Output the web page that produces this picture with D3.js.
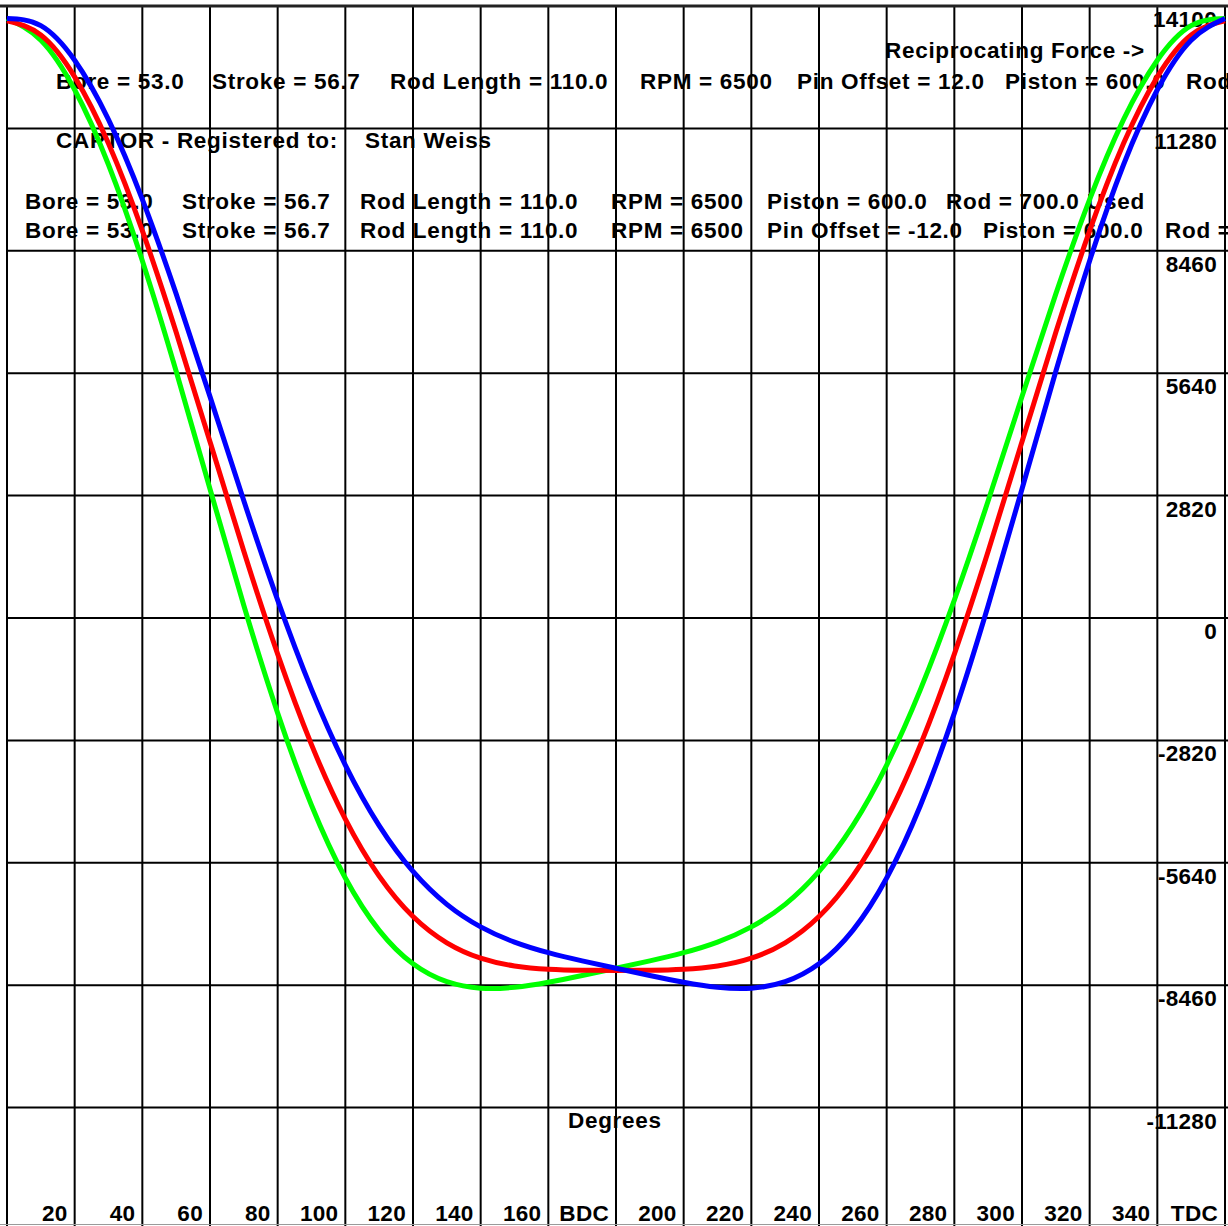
<!DOCTYPE html>
<html lang="en">
<head>
    <meta charset="UTF-8">
    <title>Reciprocating Force</title>
    <script src="https://d3js.org/d3.v7.min.js"></script>
    <style>
        body { margin: 0; background: #fff; }
        svg { display: block; }
        text {
            font-family: "Liberation Sans", Arial, sans-serif;
            font-weight: bold;
            font-size: 22.5px;
            letter-spacing: 0.7px;
            fill: #000;
            white-space: pre;
        }
    </style>
</head>
<body>
    <script>
        // crank angle, every 10 degrees
        let degrees = [0, 10, 20, 30, 40, 50, 60, 70, 80, 90, 100, 110, 120, 130, 140, 150, 160, 170, 180,
                       190, 200, 210, 220, 230, 240, 250, 260, 270, 280, 290, 300, 310, 320, 330, 340, 350, 360];

        // pin offset = 0 (red)
        let forceNoOffset = [13760, 13431, 12468, 10932, 8924, 6581, 4062, 1537, -833, -2918, -4633, -5947, -6878,
                             -7483, -7837, -8017, -8092, -8116, -8120, -8116, -8092, -8017, -7837, -7483, -6878,
                             -5947, -4633, -2918, -833, 1537, 4062, 6581, 8924, 10932, 12468, 13431, 13760];
        // pin offset = 12.0 (blue)
        let forceOffsetPos = [13810, 13648, 12850, 11482, 9645, 7468, 5101, 2700, 412, -1644, -3388, -4783, -5839,
                              -6597, -7116, -7467, -7711, -7900, -8070, -8235, -8391, -8507, -8529, -8380, -7968,
                              -7197, -5991, -4314, -2191, 287, 2972, 5684, 8232, 10442, 12170, 13313, 13810];
        // pin offset = -12.0 (green)
        let forceOffsetNeg = [13810, 13313, 12170, 10442, 8232, 5684, 2972, 287, -2191, -4314, -5991, -7197, -7968,
                              -8380, -8529, -8507, -8391, -8235, -8070, -7900, -7711, -7467, -7116, -6597, -5839,
                              -4783, -3388, -1644, 412, 2700, 5101, 7468, 9645, 11482, 12850, 13648, 13810];

        let xTickValues = [20, 40, 60, 80, 100, 120, 140, 160, 180, 200, 220, 240, 260, 280, 300, 320, 340, 360];
        let xTickLabels = ["20", "40", "60", "80", "100", "120", "140", "160", "BDC",
                           "200", "220", "240", "260", "280", "300", "320", "340", "TDC"];
        let yTickValues = [14100, 11280, 8460, 5640, 2820, 0, -2820, -5640, -8460, -11280];

        let W = 1228, H = 1226;

        let svg = d3.select("body")
                    .append("svg")
                    .attr("width", W)
                    .attr("height", H);

        svg.append("rect").attr("width", W).attr("height", H).attr("fill", "#fff");

        let x = d3.scaleLinear().domain([0, 360]).range([7, 1225]);
        let y = d3.scaleLinear().domain([-14100, 14100]).range([1230, 6]);

        /* ---------- header text (drawn first, grid goes over it) ---------- */
        let header = [
            [885, 58, "Reciprocating Force ->"],
            [56, 89, "Bore = 53.0"], [212, 89, "Stroke = 56.7"], [390, 89, "Rod Length = 110.0"],
            [640, 89, "RPM = 6500"], [797, 89, "Pin Offset = 12.0"], [1005, 89, "Piston = 600.0"],
            [1186, 89, "Rod"],
            [56, 148, "CAPTOR - Registered to:"], [365, 148, "Stan Weiss"],
            [25, 209, "Bore = 53.0"], [182, 209, "Stroke = 56.7"], [360, 209, "Rod Length = 110.0"],
            [611, 209, "RPM = 6500"], [767, 209, "Piston = 600.0"], [946, 209, "Rod = 700.0"],
            [1087, 209, "Used"],
            [25, 238, "Bore = 53.0"], [182, 238, "Stroke = 56.7"], [360, 238, "Rod Length = 110.0"],
            [611, 238, "RPM = 6500"], [767, 238, "Pin Offset = -12.0"], [983, 238, "Piston = 600.0"],
            [1165, 238, "Rod ="]
        ];
        svg.append("g").selectAll("text")
           .data(header)
           .enter()
           .append("text")
           .attr("x", d => d[0])
           .attr("y", d => d[1])
           .text(d => d[2]);

        // y labels on the right, under each line
        svg.append("g").selectAll("text")
           .data(yTickValues)
           .enter()
           .append("text")
           .attr("x", 1217)
           .attr("y", d => y(d) + 21)
           .attr("text-anchor", "end")
           .style("letter-spacing", "0.3px")
           .text(d => d);

        // x labels along the bottom
        svg.append("g").selectAll("text")
           .data(xTickValues)
           .enter()
           .append("text")
           .attr("x", d => x(d) - 7)
           .attr("y", 1221)
           .attr("text-anchor", "end")
           .style("letter-spacing", "0.3px")
           .text((d, i) => xTickLabels[i]);

        svg.append("text")
           .attr("x", 568)
           .attr("y", 1128)
           .text("Degrees");

        /* ---------- grid ---------- */
        let grid = svg.append("g").attr("stroke", "#000").attr("stroke-width", 2);
        grid.selectAll(".v")
            .data(d3.range(0, 361, 20))
            .enter()
            .append("line")
            .attr("x1", d => x(d)).attr("x2", d => x(d))
            .attr("y1", 6).attr("y2", H);
        grid.selectAll(".h")
            .data(yTickValues.slice(1))
            .enter()
            .append("line")
            .attr("x1", x(0)).attr("x2", W)
            .attr("y1", d => y(d)).attr("y2", d => y(d));

        // top frame and bottom edge
        svg.append("line")
           .attr("x1", 0).attr("x2", W)
           .attr("y1", y(14100)).attr("y2", y(14100))
           .attr("stroke", "#222").attr("stroke-width", 3);
        svg.append("line")
           .attr("x1", 0).attr("x2", W)
           .attr("y1", 1224.5).attr("y2", 1224.5)
           .attr("stroke", "#9a9a9a").attr("stroke-width", 1);

        /* ---------- curves ---------- */
        let line = d3.line()
                     .x((d, i) => x(degrees[i]))
                     .y(d => y(d))
                     .curve(d3.curveNatural);

        let series = [
            { values: forceOffsetNeg, color: "#00ff00" },
            { values: forceNoOffset, color: "#ff0000" },
            { values: forceOffsetPos, color: "#0000ff" }
        ];

        svg.append("g").selectAll("path")
           .data(series)
           .enter()
           .append("path")
           .attr("d", d => line(d.values))
           .attr("fill", "none")
           .attr("stroke", d => d.color)
           .attr("stroke-width", 5);
    </script>
</body>
</html>
